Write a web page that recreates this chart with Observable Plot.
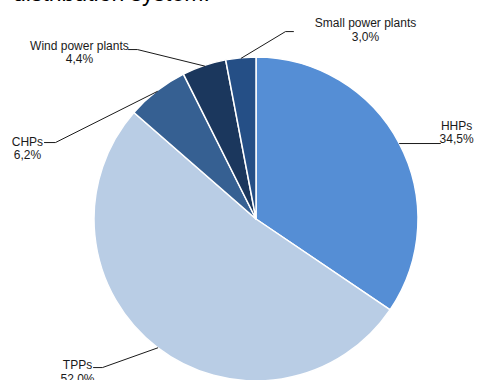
<!DOCTYPE html>
<html>
<head>
<meta charset="utf-8">
<script src="https://cdn.jsdelivr.net/npm/d3@7"></script>
<script src="https://cdn.jsdelivr.net/npm/@observablehq/plot@0.6"></script>
<style>
  body { margin: 0; background: #fff; }
  #wrap { position: relative; width: 477px; height: 380px; overflow: hidden; }
  #title {
    position: absolute; left: 13px; top: -18.5px;
    font: 23px/23px "Liberation Sans", Arial, sans-serif;
    color: #000; white-space: nowrap;
  }
  #chart { position: absolute; left: 0; top: 0; }
</style>
</head>
<body>
<div id="wrap">
  <div id="chart"></div>
  <div id="title">distribution system.</div>
</div>
<script>
// Structure of installed capacity by plant type
const sources = ["HHPs", "TPPs", "CHPs", "Wind power plants", "Small power plants"];
const shares = [34.5, 52.0, 6.2, 4.4, 3.0];
const shareLabels = ["34,5%", "52,0%", "6,2%", "4,4%", "3,0%"];
const palette = ["#558ed5", "#b9cde5", "#366092", "#1b375d", "#254f86"];

// Pie geometry in pixels: centre and radius
const cx = 256, cy = 219, radius = 162;

// Label placement in units of the radius (y up): text centre, elbow and end of the leader
const labelLayout = {
  "HHPs":               {tx: 1.235, ty: 0.540,  ex: 1.136,  ey: 0.469, hx: 1.136},
  "TPPs":               {tx: -1.105, ty: -0.938, ex: -0.951, ey: -0.914, hx: -1.006},
  "CHPs":               {tx: -1.414, ty: 0.441,  ex: -1.241, ey: 0.475, hx: -1.309},
  "Wind power plants":  {tx: -1.093, ty: 1.034,  ex: -0.735, ey: 1.049, hx: -0.790},
  "Small power plants": {tx: 0.673, ty: 1.173,   ex: 0.179,  ey: 1.160, hx: 0.228}
};

const rows = sources.map((s, i) => ({source: s, share: shares[i], label: shareLabels[i], color: palette[i]}));

// Clockwise from 12 o'clock, in data order
const arcs = d3.pie().value(d => d.share).sort(null).startAngle(0).endAngle(2 * Math.PI)(rows);

// Leader lines: from the rim at each slice's mid-angle to the elbow, then to the label
const leaders = arcs.flatMap(a => {
  const mid = (a.startAngle + a.endAngle) / 2;
  const L = labelLayout[a.data.source];
  return [
    {source: a.data.source, x: Math.sin(mid), y: Math.cos(mid)},
    {source: a.data.source, x: L.ex, y: L.ey},
    {source: a.data.source, x: L.hx, y: L.ey}
  ];
});

const labels = rows.map(r => ({
  text: r.source + "\n" + r.label,
  x: labelLayout[r.source].tx,
  y: labelLayout[r.source].ty
}));

// Wedges drawn with d3.arc, centred and sized through the plot's x and y scales
function wedges(index, scales) {
  const x0 = scales.x(0), y0 = scales.y(0);
  const r = scales.x(1) - x0;
  const arc = d3.arc().innerRadius(0).outerRadius(r);
  const g = d3.create("svg:g").attr("transform", `translate(${x0},${y0})`);
  g.selectAll("path")
    .data(arcs)
    .join("path")
    .attr("d", arc)
    .attr("fill", d => d.data.color)
    .attr("stroke", "#fff")
    .attr("stroke-width", 1.5)
    .attr("stroke-linejoin", "round");
  return g.node();
}

const chart = Plot.plot({
  width: 477,
  height: 380,
  margin: 0,
  style: {fontFamily: "'Liberation Sans', Arial, sans-serif", background: "transparent", overflow: "visible"},
  x: {domain: [-1, 1], range: [cx - radius, cx + radius], axis: null},
  y: {domain: [-1, 1], range: [cy + radius, cy - radius], axis: null},
  marks: [
    wedges,
    Plot.line(leaders, {x: "x", y: "y", z: "source", stroke: "#1a1a1a", strokeWidth: 1}),
    Plot.text(labels, {
      x: "x", y: "y", text: "text",
      fontSize: 12, lineHeight: 1.15, lineAnchor: "middle", textAnchor: "middle",
      fill: "#1a1a1a"
    })
  ]
});

document.getElementById("chart").appendChild(chart);
</script>
</body>
</html>
